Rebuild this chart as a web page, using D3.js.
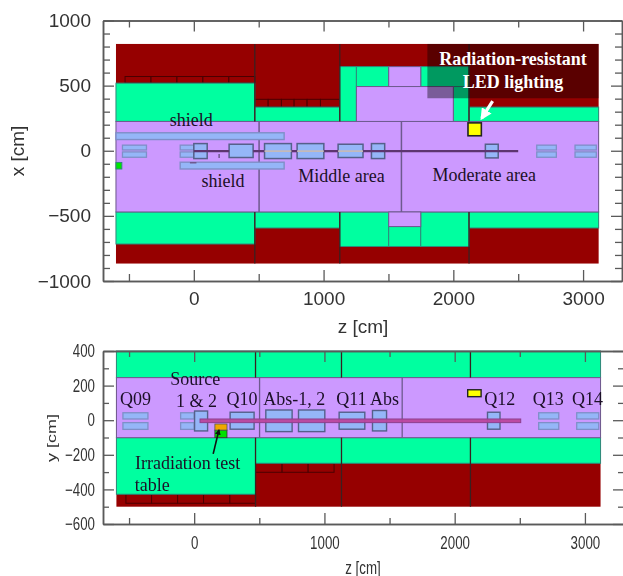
<!DOCTYPE html>
<html><head><meta charset="utf-8">
<script src="https://cdn.jsdelivr.net/npm/d3@7"></script>
<style>html,body{margin:0;padding:0;background:#fff;overflow:hidden}svg{display:block;filter:blur(.55px)}</style>
</head><body><svg id="c" width="623" height="576"></svg>
<script>
// All rows are [zStart, zEnd, transverseA, transverseB] in cm
const zMajorTicks=[0,1000,2000,3000], zMinorTicks=[-500,500,1500,2500];
const xMajorTicks=[-1000,-500,0,500,1000];
const xMinorTicks=[-900,-800,-700,-600,-400,-300,-200,-100,100,200,300,400,600,700,800,900];
const yMajorTicks=[-600,-400,-200,0,200,400], yMinorTicks=[-500,-300,-100,100,300];

const topBackground=[[-600,3120,820,-866]];
const topCells=[[-530,-330,570,520],[-330,-130,570,520],[-130,70,570,520],[70,270,570,520],[270,470,570,520],
 [470,573,395,335],[573,675,395,335],[675,773,395,335],[773,873,395,335],[873,976,395,335],[976,1125,395,335]];
const topGreen=[[-600,470,519,225],[470,1125,335,225],[1125,1253,646,225],[1253,1502,646,493],[1749,2121,646,493],
 [2000,2121,493,225],[2121,3120,335,225],[-600,470,-470,-716],[470,1125,-470,-593],[1125,1502,-470,-735],
 [1502,1749,-582,-735],[1749,2121,-470,-735],[2121,3120,-470,-593]];
const topPurple=[[-600,3120,225,-470],[1502,1749,646,493],[1253,2000,493,225],[1502,1749,-470,-582]];
const topWalls=[[470,470,820,225],[470,470,-470,-866],[1125,1125,820,225],[1125,1125,-470,-866],[2121,2121,820,225],[2121,2121,-470,-866]];
const topDividers=[[503,503,225,-470],[1600,1600,225,-470]];
const topShields=[[-600,696,138,86],[-105,696,-88,-140]];
const topSplitMagnets=[[-550,-365,43,6],[-550,-365,-9,-50],[-105,0,43,6],[-105,0,-9,-50],
 [2643,2794,43,6],[2643,2794,-9,-50],[2938,3102,43,6],[2938,3102,-9,-50]];
const topBoxes=[[272,457,50,-52],[545,752,55,-60],[796,1002,55,-60],[1112,1304,50,-52],
 [1369,1471,55,-60],[2247,2346,50,-55],[0,103,55,-60]];
const topBeam=[[0,272,-3,-3],[457,545,-3,-3],[752,796,-3,-3],[1002,1112,-3,-3],[1304,2500,-3,-3]];
const topCore=[[545,752,-3,-3],[796,1002,-3,-3],[1112,1304,-3,-3]];
const topSpecks=[[195,195,-25,-55],[-30,20,-92,-92]];
const topGreenMark=[[-600,-555,-90,-140]];
const topLamp=[[2113,2216,214,115]];
const topOverlay=[[1800,3120,820,403]];
const topArrow=[[2303,381],[2219,250]];
const topLabels=[["shield",-185,192],["shield",60,-280],["Middle area",805,-240],["Moderate area",1840,-230]];
const topWhiteLabels=[["Radiation-resistant",2460,660],["LED lighting",2460,480]];

const botGreen=[[-597,3120,400,246],[-597,471,-101,-428],[471,3120,-101,-249]];
const botBackground=[[-597,3120,400,-500]];
const botPurple=[[-597,3120,246,-101]];
const botCells=[[-524,-327,-428,-480],[-327,-127,-428,-480],[-127,72,-428,-480],[72,274,-428,-480],[274,471,-428,-480],
 [471,675,-249,-301],[675,875,-249,-301],[875,1074,-249,-301]];
const botWalls=[[471,471,400,246],[471,471,-101,-500],[1131,1131,400,246],[1131,1131,-101,-500],[2121,2121,400,246],[2121,2121,-101,-500]];
const botDividers=[[502,502,246,-101],[1597,1597,246,-101]];
const botSplitMagnets=[[-547,-355,43,7],[-547,-355,-14,-53],[-104,0,43,7],[-104,0,-14,-53],
 [2645,2799,43,7],[2645,2799,-14,-53],[2937,3106,43,7],[2937,3106,-14,-53]];
const botBoxes=[[276,460,46,-52],[550,752,59,-66],[801,1003,59,-66],[1113,1310,46,-52],[1369,1477,56,-62],[2252,2348,46,-52],[3,103,53,-62]];
const botBeam=[[45,2507,7,-14]];
const botTableBase=[[159,252,-57,-101]];
const botTableTop=[[159,252,-22,-57]];
const botLamp=[[2100,2203,176,136]];
const botArrow=[[146,-195],[190,-57]];
const botLabels=[["Q09",-570,88],["Source",-183,202],["1 & 2",-140,74],["Q10",248,88],["Abs-1, 2",530,88],
 ["Q11",1090,88],["Abs",1350,88],["Q12",2228,88],["Q13",2600,88],["Q14",2900,88],
 ["Irradiation test",-455,-282],["table",-457,-407]];

const svg=d3.select("#c");
const defs=svg.append("defs");
[["wa","#fff"],["ba","#111"]].forEach(([id,c])=>defs.append("marker").attr("id",id).attr("viewBox","0 0 10 10")
 .attr("refX",8).attr("refY",5).attr("markerWidth",3.6).attr("markerHeight",3.6).attr("orient","auto")
 .append("path").attr("d","M0,0L10,5L0,10z").attr("fill",c));
const RED="#960000",GREEN="#00ffa0",PURPLE="#cc99ff",BLUE="#95b6f8",EDGE="#55608a",SOFT="#7f8fc8",SANS="'Liberation Sans',Arial,sans-serif",SERIF="'Liberation Serif','Times New Roman',serif";

function rects(g,sx,sy,data,fill,stroke,sw,op){
 g.append("g").selectAll("rect").data(data).join("rect")
  .attr("x",d=>sx(d[0])).attr("width",d=>sx(d[1])-sx(d[0]))
  .attr("y",d=>sy(d[2])).attr("height",d=>sy(d[3])-sy(d[2]))
  .attr("fill",fill).attr("fill-opacity",op==null?1:op).attr("stroke",stroke||"none").attr("stroke-width",sw||0);
}
function lines(g,sx,sy,data,stroke,sw,op){
 g.append("g").selectAll("line").data(data).join("line")
  .attr("x1",d=>sx(d[0])).attr("x2",d=>sx(d[1])).attr("y1",d=>sy(d[2])).attr("y2",d=>sy(d[3]))
  .attr("stroke",stroke).attr("stroke-width",sw).attr("stroke-opacity",op==null?1:op);
}
function frame(sx,sy,yMajor,yMinor,opt){
 const [l,r]=sx.range(),[b,t]=sy.range();
 const g=svg.append("g").attr("fill","none");
 const style=s=>{s.selectAll("path,line").attr("stroke","#5a5a5a").attr("stroke-width",1.3);s.selectAll(".domain").attr("stroke-width",1.5);};
 const add=(axis,tx,ty)=>g.append("g").attr("transform",`translate(${tx},${ty})`).call(axis).call(style);
 const none=()=>"";
 add(d3.axisBottom(sx).tickValues(zMinorTicks).tickSize(-opt.minor).tickSizeOuter(0).tickFormat(none),0,b);
 add(d3.axisTop(sx).tickValues(zMinorTicks).tickSize(-opt.minor).tickSizeOuter(0).tickFormat(none),0,t);
 add(d3.axisTop(sx).tickValues(zMajorTicks).tickSize(-opt.major).tickSizeOuter(0).tickFormat(none),0,t);
 add(d3.axisRight(sy).tickValues(yMinor).tickSize(-opt.minor).tickSizeOuter(0).tickFormat(none),r,0);
 add(d3.axisRight(sy).tickValues(yMajor).tickSize(-opt.major).tickSizeOuter(0).tickFormat(none),r,0);
 add(d3.axisLeft(sy).tickValues(yMinor).tickSize(-opt.minor).tickSizeOuter(0).tickFormat(none),l,0);
 const fmt=d=>String(d).replace("-","\u2212");
 const xa=add(d3.axisBottom(sx).tickValues(zMajorTicks).tickSize(-opt.major).tickSizeOuter(0).tickPadding(opt.xPad).tickFormat(fmt),0,b);
 const ya=add(d3.axisLeft(sy).tickValues(yMajor).tickSize(-opt.major).tickSizeOuter(0).tickPadding(opt.yPad).tickFormat(fmt),l,0);
 [xa,ya].forEach(a=>a.selectAll("text").attr("fill","#333").attr("stroke","none").style("font-family",SANS).style("font-size",opt.font+"px"));
 xa.selectAll("text").attr("transform",`scale(${opt.squeeze},1)`);
 ya.selectAll("text").attr("x",-opt.yPad/opt.squeeze).attr("transform",`scale(${opt.squeeze},1)`);
 svg.append("text").attr("transform",`translate(${opt.zLabel[0]},${opt.zLabel[1]}) scale(${opt.squeeze},1)`)
  .attr("text-anchor","middle").attr("fill","#333").style("font-family",SANS).style("font-size",opt.font+"px").text("z [cm]");
 svg.append("text").attr("transform",`translate(${opt.vLabel[0]},${opt.vLabel[1]}) rotate(-90) scale(1,${opt.squeeze})`)
  .attr("text-anchor","middle").attr("fill","#333").style("font-family",SANS).style("font-size",opt.font+"px").text(opt.vText);
}
function texts(g,sx,sy,data,fill,weight,size,cx){
 g.append("g").selectAll("text").data(data).join("text").attr("x",d=>sx(d[1])).attr("y",d=>sy(d[2]))
  .attr("text-anchor",cx?"middle":"start").attr("fill",fill).attr("font-weight",weight).style("font-family",SERIF).style("font-size",size+"px").text(d=>d[0]);
}
function arrow(g,sx,sy,data,color,w,id){
 g.append("path").datum(data).attr("d",d3.line().x(d=>sx(d[0])).y(d=>sy(d[1]))).attr("fill","none")
  .attr("stroke",color).attr("stroke-width",w).attr("marker-end",`url(#${id})`);
}

// upper panel
const zT=d3.scaleLinear().domain([-700,3300]).range([103,622]);
const xT=d3.scaleLinear().domain([-1000,1000]).range([281,20.5]);
const gT=svg.append("g");
const cellEdge="#4a0000",wall="#3a2020",regionEdge="#2f8a7c",purpleEdge="#6d5a8e";
rects(gT,zT,xT,topBackground,RED);
rects(gT,zT,xT,topCells,RED,cellEdge,1);
rects(gT,zT,xT,topGreen,GREEN,regionEdge,1);
rects(gT,zT,xT,topPurple,PURPLE,purpleEdge,1);
lines(gT,zT,xT,topWalls,wall,1.3);
lines(gT,zT,xT,topDividers,purpleEdge,1.5);
rects(gT,zT,xT,topShields,BLUE,SOFT,1.4);
rects(gT,zT,xT,topSplitMagnets,BLUE,SOFT,1.3);
rects(gT,zT,xT,topBoxes,BLUE,EDGE,1.5);
lines(gT,zT,xT,topBeam,"#5d3570",2.3);
lines(gT,zT,xT,topCore,"#c9b9b4",1.6);
lines(gT,zT,xT,topSpecks,"#6d5a8e",1.5);
rects(gT,zT,xT,topGreenMark,"#00e600",regionEdge,1);
rects(gT,zT,xT,topLamp,"#ffff00","#222",1.6);
rects(gT,zT,xT,topOverlay,"#000","none",0,.4);
texts(gT,zT,xT,topLabels,"#1c1028","normal",18);
texts(gT,zT,xT,topWhiteLabels,"#fff","bold",18,true);
arrow(gT,zT,xT,topArrow,"#fff",3.2,"wa");
frame(zT,xT,xMajorTicks,xMinorTicks,{major:11,minor:7,xPad:11,yPad:12,font:19,squeeze:1,zLabel:[363,333],vLabel:[24,151],vText:"x [cm]"});

// lower panel
const zB=d3.scaleLinear().domain([-700,3300]).range([103,624]);
const yB=d3.scaleLinear().domain([-600,400]).range([524,351]);
const gB=svg.append("g");
rects(gB,zB,yB,botBackground,RED);
rects(gB,zB,yB,botCells,RED,cellEdge,1);
rects(gB,zB,yB,botGreen,GREEN,regionEdge,1);
rects(gB,zB,yB,botPurple,PURPLE,purpleEdge,1);
lines(gB,zB,yB,botWalls,wall,1.3);
lines(gB,zB,yB,botDividers,purpleEdge,1.3);
rects(gB,zB,yB,botSplitMagnets,BLUE,SOFT,1.3);
rects(gB,zB,yB,botBoxes,BLUE,EDGE,1.4);
rects(gB,zB,yB,botBeam,"#bb469d","#8e3f8f",1,.95);
rects(gB,zB,yB,botTableBase,"#00e000","#333",.8);
rects(gB,zB,yB,botTableTop,"#f0a800","#555",.8);
rects(gB,zB,yB,botLamp,"#ffff00","#222",1.4);
texts(gB,zB,yB,botLabels,"#1c1028","normal",18);
arrow(gB,zB,yB,botArrow,"#111",1.6,"ba");
frame(zB,yB,yMajorTicks,yMinorTicks,{major:11,minor:6,xPad:12,yPad:8,font:18,squeeze:.74,zLabel:[363,574],vLabel:[56,438],vText:"y [cm]"});
</script></body></html>
